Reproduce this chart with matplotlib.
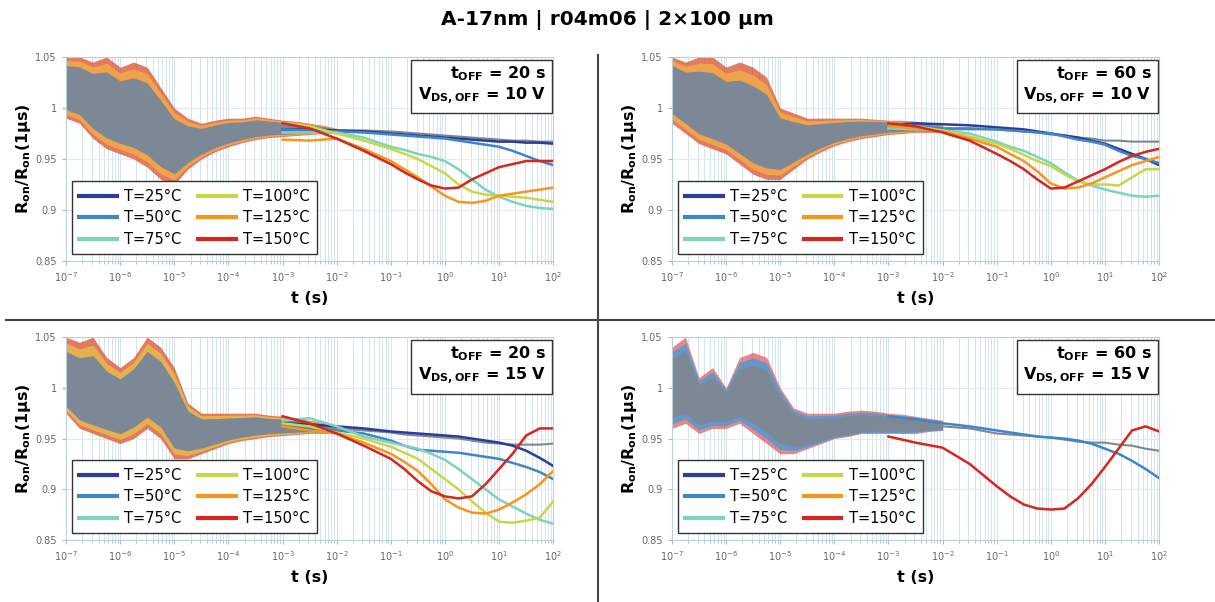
import numpy as np
import matplotlib.pyplot as plt
from matplotlib.lines import Line2D
from matplotlib.ticker import LogLocator, FixedLocator, NullFormatter

# log10(t) grids
lb = [-7, -6.75, -6.5, -6.25, -6, -5.75, -5.5, -5.25, -5, -4.75, -4.5, -4.25, -4,
      -3.75, -3.5, -3.25, -3, -2.75, -2.5, -2.25, -2]
lt = [-3, -2.5, -2, -1.5, -1, -0.75, -0.5, -0.25, 0, 0.25, 0.5, 0.75, 1, 1.25, 1.5, 1.75, 2]

temps = ["T=25°C", "T=50°C", "T=75°C", "T=100°C", "T=125°C", "T=150°C"]
colors = ["#2b3d94", "#3f86c6", "#7fd3bd", "#c6d84a", "#f5961e", "#d4271f"]
gray_c = "#7c8896"

# noisy early band (upper / lower envelope, gray core centre)
band_hi = [
    [1.05, 1.05, 1.045, 1.05, 1.04, 1.045, 1.04, 1.02, 1.0, 0.99, 0.985, 0.988, 0.99, 0.99, 0.992, 0.99, 0.988,
     0.987, 0.985, 0.983, 0.98],
    [1.05, 1.045, 1.05, 1.05, 1.04, 1.045, 1.04, 1.03, 1.0, 0.995, 0.99, 0.99, 0.99, 0.99, 0.99, 0.989, 0.988,
     0.988, 0.987, 0.985, 0.983],
    [1.05, 1.045, 1.05, 1.03, 1.02, 1.03, 1.05, 1.04, 1.02, 0.985, 0.975, 0.975, 0.975, 0.975, 0.975, 0.973, 0.972,
     0.97, 0.968, 0.966, 0.963],
    [1.04, 1.05, 1.01, 1.02, 1.0, 1.03, 1.035, 1.03, 1.0, 0.98, 0.975, 0.975, 0.975, 0.977, 0.978, 0.977, 0.975,
     0.974, 0.972, 0.97, 0.968],
]
band_lo = [
    [0.99, 0.985, 0.97, 0.96, 0.955, 0.95, 0.942, 0.93, 0.925, 0.94, 0.95, 0.957, 0.962, 0.966, 0.969, 0.971, 0.972,
     0.973, 0.974, 0.975, 0.975],
    [0.985, 0.975, 0.965, 0.96, 0.955, 0.945, 0.935, 0.93, 0.93, 0.94, 0.95, 0.957, 0.963, 0.967, 0.97, 0.972, 0.974,
     0.975, 0.976, 0.976, 0.976],
    [0.975, 0.96, 0.955, 0.95, 0.945, 0.95, 0.96, 0.95, 0.93, 0.93, 0.935, 0.94, 0.945, 0.948, 0.95, 0.952, 0.953,
     0.954, 0.955, 0.955, 0.956],
    [0.96, 0.965, 0.955, 0.96, 0.96, 0.965, 0.955, 0.945, 0.935, 0.935, 0.94, 0.945, 0.95, 0.952, 0.955, 0.955, 0.955,
     0.955, 0.955, 0.957, 0.958],
]
band_mid = [
    [1.02, 1.015, 1.005, 0.998, 0.992, 0.99, 0.985, 0.975, 0.962, 0.963, 0.967, 0.971, 0.975, 0.977, 0.979, 0.98, 0.98,
     0.98, 0.979, 0.979, 0.978],
    [1.02, 1.01, 1.0, 0.995, 0.99, 0.982, 0.975, 0.97, 0.965, 0.965, 0.967, 0.971, 0.975, 0.978, 0.98, 0.981, 0.982,
     0.982, 0.981, 0.98, 0.98],
    [1.0, 0.99, 0.985, 0.982, 0.98, 0.99, 1.0, 0.99, 0.968, 0.958, 0.955, 0.956, 0.958, 0.96, 0.962, 0.962, 0.962,
     0.962, 0.961, 0.96, 0.959],
    [1.0, 1.0, 0.985, 0.985, 0.985, 0.99, 0.99, 0.985, 0.97, 0.96, 0.955, 0.956, 0.958, 0.96, 0.962, 0.963, 0.963,
     0.963, 0.963, 0.962, 0.962],
]

# late traces, per panel: gray, then 25..150 °C (None = not measured)
p1_gray = [0.98, 0.979, 0.978, 0.978, 0.977, 0.976, 0.975, 0.974, 0.973, 0.972, 0.971, 0.970, 0.969, 0.968, 0.968, 0.967, 0.967]
p1 = [
    [0.979, 0.979, 0.978, 0.977, 0.975, 0.974, 0.973, 0.972, 0.971, 0.970, 0.969, 0.968, 0.967, 0.967, 0.966, 0.966, 0.965],
    [0.979, 0.978, 0.977, 0.976, 0.974, 0.973, 0.972, 0.971, 0.970, 0.968, 0.966, 0.964, 0.962, 0.958, 0.953, 0.948, 0.944],
    [0.976, 0.976, 0.976, 0.971, 0.962, 0.959, 0.955, 0.952, 0.948, 0.940, 0.930, 0.920, 0.913, 0.908, 0.904, 0.902, 0.901],
    [0.985, 0.982, 0.975, 0.968, 0.960, 0.955, 0.950, 0.943, 0.936, 0.925, 0.918, 0.915, 0.914, 0.913, 0.912, 0.910, 0.908],
    [0.969, 0.968, 0.970, 0.960, 0.948, 0.940, 0.932, 0.923, 0.914, 0.908, 0.907, 0.909, 0.914, 0.916, 0.918, 0.920, 0.922],
    [0.985, 0.980, 0.970, 0.958, 0.945, 0.937, 0.930, 0.924, 0.921, 0.922, 0.930, 0.936, 0.942, 0.945, 0.948, 0.948, 0.948],
]
p2_gray = [0.982, 0.98, 0.979, 0.979, 0.979, 0.978, 0.977, 0.976, 0.974, 0.973, 0.971, 0.970, 0.968, 0.968, 0.967, 0.967, 0.967]
p2 = [
    [0.983, 0.985, 0.984, 0.983, 0.981, 0.980, 0.979, 0.977, 0.975, 0.973, 0.971, 0.968, 0.965, 0.960, 0.955, 0.950, 0.944],
    [0.982, 0.982, 0.980, 0.980, 0.979, 0.978, 0.977, 0.976, 0.975, 0.972, 0.969, 0.967, 0.964, 0.958, 0.953, 0.950, 0.946],
    [0.980, 0.979, 0.978, 0.975, 0.967, 0.962, 0.958, 0.952, 0.946, 0.937, 0.929, 0.924, 0.920, 0.917, 0.914, 0.913, 0.914],
    [0.985, 0.982, 0.978, 0.972, 0.965, 0.960, 0.954, 0.948, 0.943, 0.935, 0.928, 0.925, 0.925, 0.924, 0.932, 0.940, 0.940],
    [0.982, 0.980, 0.977, 0.970, 0.962, 0.955, 0.948, 0.938, 0.926, 0.921, 0.922, 0.926, 0.932, 0.938, 0.944, 0.948, 0.952],
    [0.985, 0.982, 0.976, 0.968, 0.955, 0.948, 0.940, 0.930, 0.921, 0.922, 0.928, 0.934, 0.940, 0.947, 0.953, 0.957, 0.960],
]
p3_gray = [0.962, 0.961, 0.960, 0.958, 0.956, 0.954, 0.953, 0.952, 0.951, 0.950, 0.948, 0.946, 0.945, 0.944, 0.944, 0.944, 0.945]
p3 = [
    [0.965, 0.964, 0.962, 0.960, 0.957, 0.956, 0.955, 0.954, 0.953, 0.952, 0.950, 0.948, 0.946, 0.943, 0.938, 0.931, 0.923],
    [0.962, 0.960, 0.958, 0.955, 0.948, 0.943, 0.939, 0.938, 0.937, 0.936, 0.934, 0.932, 0.930, 0.926, 0.922, 0.917, 0.910],
    [0.968, 0.970, 0.962, 0.952, 0.946, 0.943, 0.940, 0.935, 0.929, 0.920, 0.910, 0.900, 0.890, 0.883, 0.876, 0.870, 0.866],
    [0.965, 0.962, 0.956, 0.950, 0.942, 0.936, 0.930, 0.920, 0.910, 0.900, 0.888, 0.877, 0.868, 0.867, 0.869, 0.872, 0.888],
    [0.962, 0.958, 0.955, 0.946, 0.935, 0.927, 0.918, 0.905, 0.890, 0.882, 0.877, 0.876, 0.880, 0.887, 0.895, 0.905, 0.918],
    [0.972, 0.965, 0.955, 0.943, 0.930, 0.920, 0.908, 0.898, 0.893, 0.891, 0.893, 0.905, 0.920, 0.935, 0.953, 0.960, 0.960],
]
p4_gray = [0.963, 0.963, 0.962, 0.960, 0.955, 0.954, 0.953, 0.952, 0.951, 0.949, 0.947, 0.946, 0.946, 0.944, 0.943, 0.940, 0.938]
p4 = [
    None,
    [0.972, 0.969, 0.965, 0.962, 0.958, 0.956, 0.954, 0.952, 0.951, 0.950, 0.948, 0.945, 0.940, 0.935, 0.928, 0.920, 0.911],
    None,
    None,
    None,
    [0.952, 0.946, 0.941, 0.925, 0.903, 0.893, 0.885, 0.881, 0.880, 0.881, 0.891, 0.905, 0.922, 0.940, 0.958, 0.962, 0.957],
]

grays = [p1_gray, p2_gray, p3_gray, p4_gray]
traces = [p1, p2, p3, p4]
toff = ["20", "60", "20", "60"]
vds = ["10", "10", "15", "15"]
band_outer = ["#dd5a3a", "#dd5a3a", "#dd5a3a", "#de6a6a"]
band_inner = ["#f2a848", "#f2a848", "#e6b84a", "#5a98d0"]

positions = [
    [0.0543, 0.5664, 0.401, 0.339],
    [0.553, 0.5664, 0.401, 0.339],
    [0.0543, 0.103, 0.401, 0.337],
    [0.553, 0.103, 0.401, 0.337],
]

fig = plt.figure(figsize=(12.15, 6.02), dpi=100)

for i in range(4):
    ax = fig.add_axes(positions[i])
    ax.set_xscale("log")
    ax.set_xlim(1e-7, 1e2)
    ax.set_ylim(0.85, 1.05)

    tb = 10.0 ** np.array(lb)
    hi = np.array(band_hi[i])
    lo = np.array(band_lo[i])
    mid = np.array(band_mid[i])
    ax.fill_between(tb, lo, hi, color=band_outer[i], alpha=0.8, lw=0, zorder=2)
    ax.fill_between(tb, mid - 0.88 * (mid - lo), mid + 0.88 * (hi - mid),
                    color=band_inner[i], alpha=0.9, lw=0, zorder=2.1)
    ax.fill_between(tb, mid - 0.72 * (mid - lo), mid + 0.72 * (hi - mid),
                    color=gray_c, lw=0, zorder=2.2)

    tl = 10.0 ** np.array(lt)
    for j in range(6):
        if traces[i][j] is not None:
            ax.plot(tl, traces[i][j], color=colors[j], lw=1.8, zorder=3)
    ax.plot(tl, grays[i], color=gray_c, lw=1.5, zorder=2.9)

    # grid
    ax.xaxis.set_major_locator(LogLocator(base=10, numticks=20))
    ax.xaxis.set_minor_locator(LogLocator(base=10, subs=np.arange(2, 10), numticks=20))
    ax.xaxis.set_minor_formatter(NullFormatter())
    ax.yaxis.set_major_locator(FixedLocator([0.85, 0.9, 0.95, 1.0, 1.05]))
    ax.set_yticklabels(["0.85", "0.9", "0.95", "1", "1.05"])
    ax.grid(True, which="both", axis="x", color="#d3e4ee", lw=0.7, zorder=0)
    ax.grid(True, which="major", axis="y", color="#e2ebf0", lw=0.8, zorder=0)
    ax.set_axisbelow(True)
    for s in ax.spines.values():
        s.set_color("#b9d0dd")
    ax.tick_params(axis="both", which="both", labelsize=7, labelcolor="#666666",
                   color="#9fbccb", length=3)
    ax.tick_params(axis="x", which="minor", length=2)

    ax.set_xlabel("t (s)", fontsize=11.5, fontweight="bold", labelpad=5)
    ax.set_ylabel(r"$\mathbf{R_{on}/R_{on}}$(1µs)", fontsize=11.5,
                  fontweight="bold", labelpad=2)

    handles = [Line2D([0], [0], color=c, lw=3) for c in colors]
    ax.legend(handles, temps, ncol=2, loc="lower left", bbox_to_anchor=(0.012, 0.034),
              fontsize=10.5, frameon=True, fancybox=False, edgecolor="#333333",
              framealpha=1, handlelength=2.6, handletextpad=0.5, columnspacing=1.1,
              labelspacing=0.45, borderpad=0.5, borderaxespad=0.0).set_zorder(5)

    ax.text(0.985, 0.965,
            r"$\mathbf{t_{OFF}}$ = " + toff[i] + " s\n" + r"$\mathbf{V_{DS,OFF}}$ = " + vds[i] + " V",
            transform=ax.transAxes, ha="right", va="top", fontsize=11.5,
            fontweight="bold", zorder=6,
            bbox=dict(boxstyle="square,pad=0.4", fc="white", ec="#333333", lw=1))

fig.text(0.5, 0.966, "A-17nm | r04m06 | 2×100 µm", ha="center", va="center",
         fontsize=14.5, fontweight="bold")

fig.add_artist(Line2D([0.005, 1.0], [1 - 320 / 602] * 2, color="#444444", lw=1.5))
fig.add_artist(Line2D([598 / 1215] * 2, [0.0, 1 - 55 / 602], color="#444444", lw=1.5))

fig.savefig("out.png", dpi=100)
